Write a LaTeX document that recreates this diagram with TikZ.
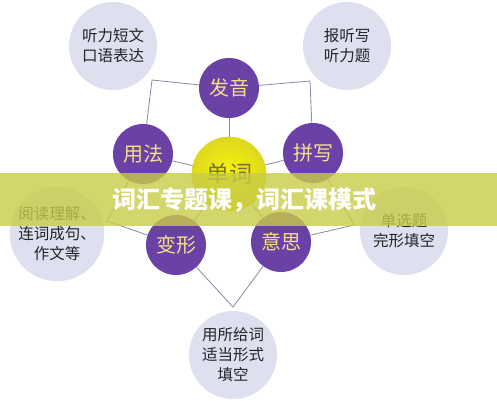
\documentclass[tikz,border=0pt]{standalone}
\usepackage{fontspec}
\setmainfont{Noto Sans CJK SC}
\definecolor{violet1}{RGB}{106,66,166}
\definecolor{or1}{RGB}{246,222,140}
\definecolor{lavande}{RGB}{222,224,239}
\definecolor{noir1}{RGB}{35,35,40}
\definecolor{gris1}{RGB}{140,136,165}
\definecolor{jaune1}{RGB}{248,244,10}
\definecolor{jaune2}{RGB}{222,216,30}
\definecolor{olive1}{RGB}{120,112,62}
\definecolor{bande}{RGB}{200,204,70}
\tikzset{
  boule/.style={circle, fill=violet1, minimum size=60pt, inner sep=0pt, text=or1, font=\fontsize{20}{22}\selectfont},
  bulle/.style={circle, fill=lavande, minimum size=88pt, inner sep=0pt, align=center, text=noir1, font=\fontsize{15.5}{20}\selectfont},
  lien/.style={draw=gris1, line width=0.8pt},
}
\begin{document}
\begin{tikzpicture}[x=1pt,y=-1pt]
	\useasboundingbox (0,0) rectangle (497,400);
	\fill[white] (0,0) rectangle (497,400);
	% les bulles
	\node[bulle] (ecoute) at (113,46) {听力短文\\口语表达};
	\node[bulle] (dictee) at (347,46) {报听写\\听力题};
	\node[bulle] (lecture) at (57,234) {阅读理解、\\连词成句、\\作文等};
	\node[bulle] (choix) at (404,231) {单选题\\完形填空};
	\node[bulle] (forme) at (233,355) {用所给词\\适当形式\\填空};
	% le mot au centre
	\node[circle, minimum size=74pt, inner sep=0pt, draw=jaune2, line width=0.6pt, inner color=jaune1, outer color=jaune2, text=olive1, font=\fontsize{23}{25}\selectfont] (mot) at (229,174) {单词};
	\node[boule] (son) at (229,88) {发音};
	\node[boule] (usage) at (143,154) {用法};
	\node[boule] (ortho) at (313,153) {拼写};
	\node[boule] (flex) at (176,245) {变形};
	\node[boule] (sens) at (281,242) {意思};
	% les coins
	\coordinate (cHG) at (152,80);
	\coordinate (cHD) at (310,81);
	\coordinate (cD) at (354,225);
	\coordinate (cB) at (233,307);
	\coordinate (cG) at (107,221);
	% les liens
	\draw[lien] (mot) -- (son);
	\draw[lien] (mot) -- (usage);
	\draw[lien] (mot) -- (ortho);
	\draw[lien] (mot) -- (flex);
	\draw[lien] (mot) -- (sens);
	\draw[lien] (usage) -- (cHG) -- (son);
	\draw[lien] (son) -- (cHD) -- (ortho);
	\draw[lien] (ortho) -- (cD) -- (sens);
	\draw[lien] (sens) -- (cB) -- (flex);
	\draw[lien] (flex) -- (cG) -- (usage);
	% la bande
	\fill[bande, fill opacity=0.8] (0,173) rectangle (497,226);
	\node[text=white, font=\fontsize{24}{26}\selectfont\bfseries] (titre) at (244,200) {词汇专题课，词汇课模式};
\end{tikzpicture}
\end{document}
